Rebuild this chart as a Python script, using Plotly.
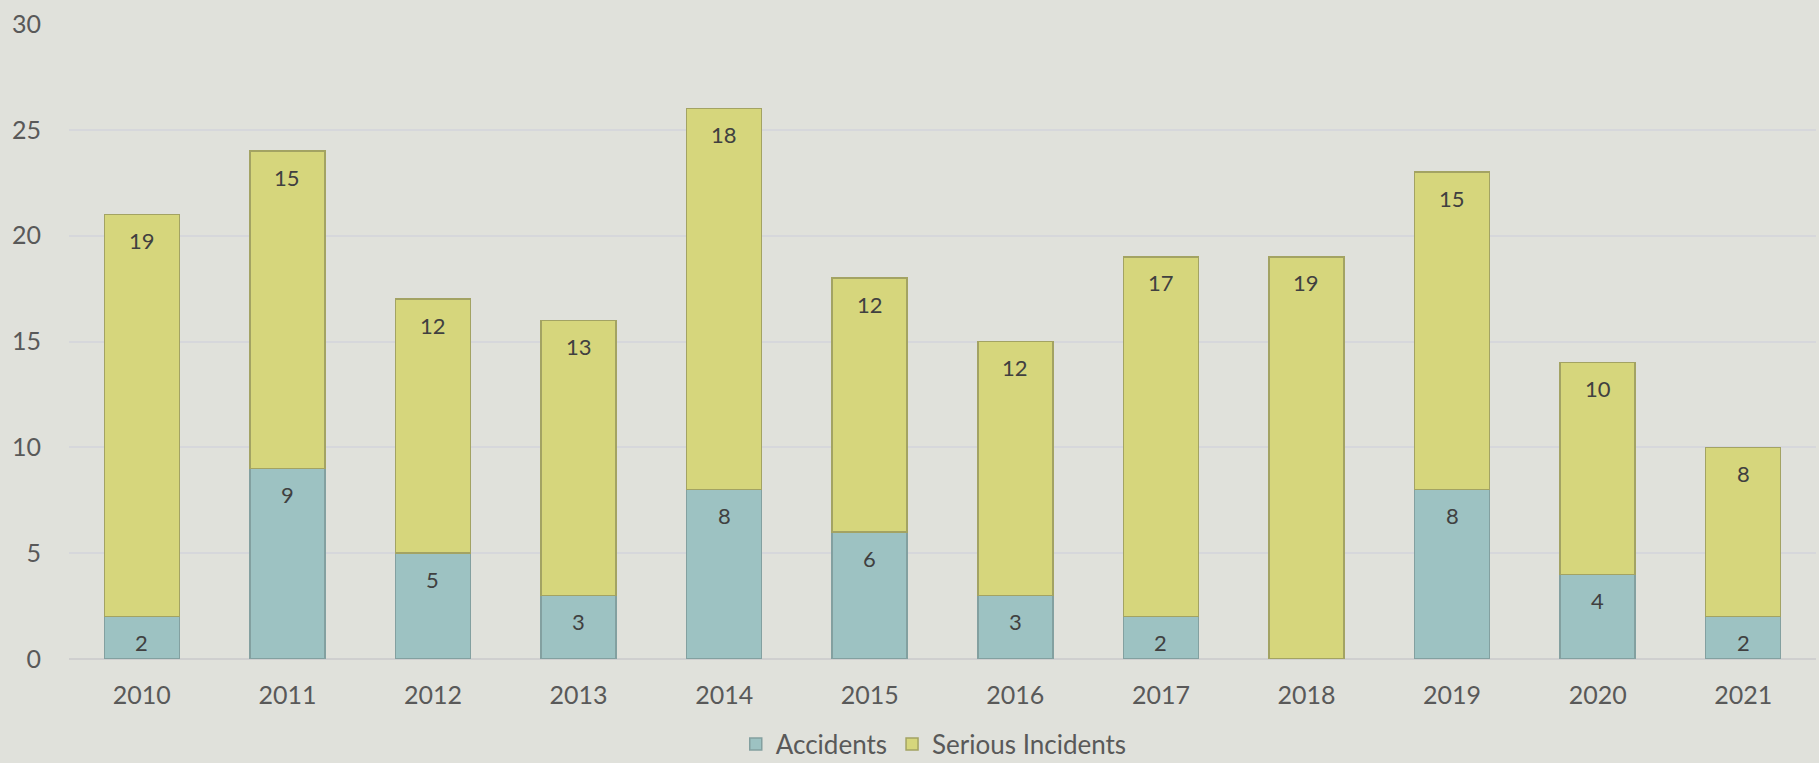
import plotly.graph_objects as go

years = ["2010", "2011", "2012", "2013", "2014", "2015", "2016", "2017", "2018", "2019", "2020", "2021"]
accidents = [2, 9, 5, 3, 8, 6, 3, 2, 0, 8, 4, 2]
serious_incidents = [19, 15, 12, 13, 18, 12, 12, 17, 19, 15, 10, 8]
y_ticks = [0, 5, 10, 15, 20, 25, 30]

FONT = "Lato"
BG = "#E0E1DB"

fig = go.Figure()
fig.add_trace(go.Bar(
    name="Accidents", x=years, y=accidents,
    marker=dict(color="#9DC2C2", line=dict(color="#83A0A0", width=1.5)),
))
fig.add_trace(go.Bar(
    name="Serious Incidents", x=years, y=serious_incidents,
    marker=dict(color="#D6D67C", line=dict(color="#A3A363", width=1.5)),
))

# data labels, placed just below the top of each segment (x = category index)
annotations = []
for i, (a, s) in enumerate(zip(accidents, serious_incidents)):
    if a:
        annotations.append(dict(x=i, y=a, text=str(a), showarrow=False,
                                yanchor="middle", yshift=-26,
                                font=dict(family=FONT, size=22, color="#404040")))
    if s:
        annotations.append(dict(x=i, y=a + s, text=str(s), showarrow=False,
                                yanchor="middle", yshift=-26,
                                font=dict(family=FONT, size=22, color="#404040")))

fig.update_layout(
    barmode="stack",
    bargap=0.485,
    width=1819, height=763,
    paper_bgcolor=BG, plot_bgcolor=BG,
    margin=dict(l=69, r=3, t=24, b=104, autoexpand=False),
    font=dict(family=FONT, size=25, color="#595959"),
    annotations=annotations,
    legend=dict(
        orientation="h", x=0.495, xanchor="center",
        yref="container", y=19 / 763, yanchor="middle",
        font=dict(family=FONT, size=26, color="#595959"),
        traceorder="normal",
        bgcolor="rgba(0,0,0,0)",
    ),
    showlegend=True,
)
fig.update_xaxes(
    type="category", categoryorder="array", categoryarray=years,
    range=[-0.5, len(years) - 0.5],
    showgrid=False, showline=False, ticks="",
    ticklabelstandoff=19,
    tickfont=dict(family=FONT, size=25, color="#595959"),
)
fig.update_yaxes(
    range=[0, 30], tickvals=y_ticks,
    showgrid=True, gridcolor="#D6D7DB", gridwidth=1.5,
    zeroline=True, zerolinecolor="#CFCFCF", zerolinewidth=2,
    showline=False, ticks="",
    ticklabelstandoff=27,
    tickfont=dict(family=FONT, size=25, color="#595959"),
)

fig.write_html("out.html",
               config={"displayModeBar": False},
               post_script="document.body.style.margin='0';document.body.style.overflow='hidden';")
